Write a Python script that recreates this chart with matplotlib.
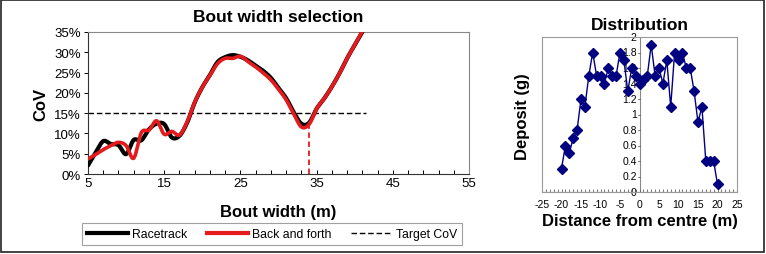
import numpy as np
import matplotlib
matplotlib.use("Agg")
import matplotlib.pyplot as plt
from matplotlib.ticker import PercentFormatter, MultipleLocator, FixedLocator
from matplotlib.lines import Line2D
from matplotlib.patches import Rectangle

plt.rcParams['font.family'] = ['Liberation Sans', 'DejaVu Sans']
plt.rcParams['axes.unicode_minus'] = False

# ---- data ----
bout_width = [5, 6, 7, 8, 9, 10, 11, 12, 13, 14, 15, 16, 17, 18, 19, 20, 21, 22, 23,
              24, 25, 26, 27, 28, 29, 30, 31, 32, 33, 34, 35, 36, 37, 38, 39, 40, 41]
racetrack = [0.021, 0.053, 0.081, 0.074, 0.071, 0.049, 0.084, 0.083, 0.110, 0.124, 0.123,
             0.090, 0.094, 0.126, 0.176, 0.214, 0.244, 0.276, 0.288, 0.293, 0.289, 0.280,
             0.267, 0.254, 0.237, 0.212, 0.187, 0.152, 0.124, 0.126, 0.161, 0.186, 0.215,
             0.248, 0.285, 0.318, 0.350]
back_forth = [0.037, 0.048, 0.060, 0.070, 0.078, 0.070, 0.039, 0.102, 0.108, 0.131, 0.098,
              0.105, 0.096, 0.128, 0.177, 0.214, 0.243, 0.272, 0.285, 0.285, 0.290, 0.277,
              0.264, 0.249, 0.232, 0.209, 0.183, 0.148, 0.116, 0.122, 0.161, 0.186, 0.215,
              0.248, 0.285, 0.318, 0.352]
target_cov = 0.15
target_range = [5, 41.5]
selected_width = 34
selected_cov = 0.12
x_ticks = [5, 15, 25, 35, 45, 55]

distance = list(range(-20, 21))
deposit = [0.3, 0.6, 0.5, 0.7, 0.8, 1.2, 1.1, 1.5, 1.8, 1.5, 1.5, 1.4, 1.6, 1.5, 1.5, 1.8,
           1.7, 1.3, 1.6, 1.5, 1.4, 1.45, 1.5, 1.9, 1.5, 1.6, 1.4, 1.7, 1.1, 1.8, 1.7, 1.8,
           1.6, 1.6, 1.3, 0.9, 1.1, 0.4, 0.4, 0.4, 0.1]


def smooth(x, y, n=20):
    """Catmull-Rom spline through the points (Excel-like smoothed line)."""
    x = np.asarray(x, float); y = np.asarray(y, float)
    P = np.column_stack([x, y])
    P = np.vstack([2 * P[0] - P[1], P, 2 * P[-1] - P[-2]])
    out = []
    t = np.linspace(0, 1, n, endpoint=False)[:, None]
    for i in range(1, len(P) - 2):
        p0, p1, p2, p3 = P[i - 1], P[i], P[i + 1], P[i + 2]
        seg = 0.5 * ((2 * p1) + (-p0 + p2) * t + (2 * p0 - 5 * p1 + 4 * p2 - p3) * t ** 2
                     + (-p0 + 3 * p1 - 3 * p2 + p3) * t ** 3)
        out.append(seg)
    out.append(P[-2][None, :])
    out = np.vstack(out)
    return out[:, 0], out[:, 1]


W, H = 766, 255
fig = plt.figure(figsize=(W / 100, H / 100), dpi=100)
fig.patches.append(Rectangle((1 / W, 2 / H), (W - 3) / W, (H - 3) / H, transform=fig.transFigure,
                             fill=False, edgecolor='#222222', linewidth=1.2))


def px_axes(x0, y0, x1, y1):
    return fig.add_axes([x0 / W, (H - y1) / H, (x1 - x0) / W, (y1 - y0) / H])

# ---- left chart ----
ax = px_axes(88, 33, 469, 175)
for s in ['top', 'right']:
    ax.spines[s].set_color('#888888')
for s in ['left', 'bottom']:
    ax.spines[s].set_color('#333333')
for s in ax.spines.values():
    s.set_linewidth(0.8)

sx, sy = smooth(bout_width, racetrack)
ax.plot(sx, sy, color='black', lw=3.0, solid_capstyle='round', label='Racetrack', zorder=3)
sx, sy = smooth(bout_width, back_forth)
ax.plot(sx, sy, color='#e41a1c', lw=2.6, solid_capstyle='round', label='Back and forth', zorder=4)
ax.plot(target_range, [target_cov, target_cov], color='black', lw=1.0, ls=(0, (4, 2)),
        label='Target CoV', zorder=2)
ax.plot([selected_width, selected_width], [0, selected_cov], color='#e41a1c', lw=1.3,
        ls=(0, (3, 2)), zorder=2)

ax.set_xlim(5, 55)
ax.set_ylim(0, 0.35)
ax.xaxis.set_major_locator(FixedLocator(x_ticks))
ax.xaxis.set_minor_locator(MultipleLocator(2, offset=1))
ax.yaxis.set_major_locator(MultipleLocator(0.05))
ax.yaxis.set_major_formatter(PercentFormatter(1.0, decimals=0))
ax.tick_params(axis='x', which='both', direction='in', length=3, width=0.7, labelsize=9.5, pad=2)
ax.tick_params(axis='y', which='both', direction='out', length=3, width=0.7, labelsize=9.5, pad=2)
ax.set_xlabel('Bout width (m)', fontsize=12, fontweight='bold', labelpad=11)
ax.set_ylabel('CoV', fontsize=12, fontweight='bold', labelpad=4)
ax.set_title('Bout width selection', fontsize=12.5, fontweight='bold', pad=8)

handles = [Line2D([], [], color='black', lw=3.0),
           Line2D([], [], color='#e41a1c', lw=3.0),
           Line2D([], [], color='black', lw=1.0, ls=(0, (4, 2)))]
leg = fig.legend(handles, ['Racetrack', 'Back and forth', 'Target CoV'], loc='center',
                 bbox_to_anchor=(272 / W, (H - 235) / H), ncol=3, fontsize=8.8,
                 frameon=True, fancybox=False, edgecolor='#888888', handlelength=3.4,
                 handletextpad=0.3, columnspacing=1.6, borderpad=0.4)
leg.get_frame().set_linewidth(0.8)

# ---- right chart ----
ax2 = px_axes(542, 38, 737, 193)
for s in ax2.spines.values():
    s.set_color('#999999'); s.set_linewidth(0.8)
ax2.set_xlim(-25, 25)
ax2.set_ylim(0, 2)
ax2.axvline(0, color='#888888', lw=0.8, zorder=1)
ax2.axhline(0, color='#666666', lw=0.8, zorder=1)
ax2.plot(distance, deposit, color='#000080', lw=1.0, marker='D', markersize=5.5,
         markerfacecolor='#000080', markeredgecolor='#000080', zorder=3, clip_on=False)
ax2.xaxis.set_major_locator(MultipleLocator(5))
ax2.xaxis.set_minor_locator(MultipleLocator(1))
ax2.tick_params(axis='x', which='both', direction='in', length=2, width=0.6, labelsize=7.5, pad=5,
                color='#666666')
ax2.tick_params(axis='y', which='both', left=False, labelleft=False)
# y tick labels placed next to the centre axis
for v in np.arange(0, 2.01, 0.2):
    ax2.text(-0.7, v, f'{v:g}', ha='right', va='center', fontsize=7.5, zorder=2)
    ax2.plot([-0.4, 0], [v, v], color='#666666', lw=0.6, zorder=1)
ax2.set_xlabel('Distance from centre (m)', fontsize=12, fontweight='bold', labelpad=3)
ax2.set_title('Distribution', fontsize=12.5, fontweight='bold', pad=6)
fig.text(522 / W, (H - 117) / H, 'Deposit (g)', rotation=90, ha='center', va='center',
         fontsize=12, fontweight='bold')

fig.savefig('out.png', dpi=100)
